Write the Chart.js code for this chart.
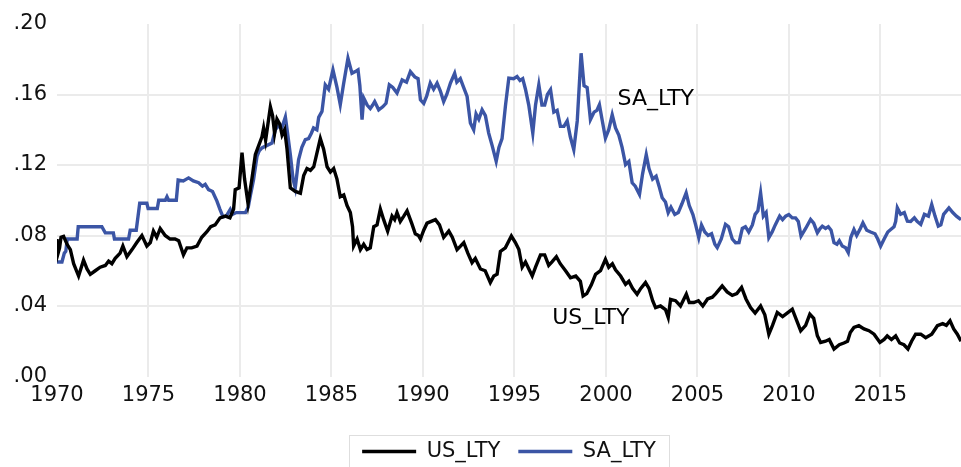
<!DOCTYPE html>
<html>
<head>
<meta charset="utf-8">
<script src="https://cdn.jsdelivr.net/npm/chart.js@4/dist/chart.umd.min.js"></script>
<style>
  html, body { margin: 0; padding: 0; background: #fff; }
  #wrap { width: 961px; height: 467px; position: relative; }
</style>
</head>
<body>
<div id="wrap"><canvas id="yields"></canvas></div>
<script>
// long-term government bond yields, decimal fractions
const usYears = [
  1970.00, 1970.06, 1970.14, 1970.22, 1970.36, 1970.55, 1970.73, 1970.91, 1971.18, 1971.45,
  1971.64, 1971.82, 1972.09, 1972.36, 1972.64, 1972.82, 1973.00, 1973.18, 1973.45, 1973.60,
  1973.82, 1974.10, 1974.36, 1974.64, 1974.91, 1975.10, 1975.27, 1975.45, 1975.64, 1975.91,
  1976.18, 1976.45, 1976.65, 1976.91, 1977.10, 1977.36, 1977.65, 1977.91, 1978.18, 1978.40,
  1978.64, 1978.91, 1979.20, 1979.45, 1979.65, 1979.74, 1979.95, 1980.11, 1980.25, 1980.44,
  1980.65, 1980.84, 1981.02, 1981.20, 1981.29, 1981.40, 1981.55, 1981.66, 1981.78, 1981.89,
  1982.02, 1982.18, 1982.30, 1982.44, 1982.57, 1982.75, 1983.02, 1983.30, 1983.48, 1983.66,
  1983.85, 1984.03, 1984.21, 1984.39, 1984.57, 1984.76, 1984.94, 1985.12, 1985.30, 1985.48,
  1985.67, 1985.85, 1986.03, 1986.15, 1986.21, 1986.40, 1986.58, 1986.76, 1986.94, 1987.12,
  1987.31, 1987.49, 1987.67, 1987.85, 1988.07, 1988.31, 1988.45, 1988.58, 1988.76, 1988.95,
  1989.13, 1989.38, 1989.58, 1989.75, 1989.86, 1990.04, 1990.22, 1990.45, 1990.68, 1990.90,
  1991.13, 1991.41, 1991.60, 1991.86, 1992.05, 1992.23, 1992.45, 1992.68, 1992.86, 1993.14,
  1993.40, 1993.68, 1993.87, 1994.05, 1994.23, 1994.50, 1994.83, 1995.05, 1995.24, 1995.42,
  1995.60, 1995.97, 1996.15, 1996.42, 1996.65, 1996.87, 1997.05, 1997.29, 1997.50, 1997.79,
  1998.06, 1998.35, 1998.60, 1998.75, 1998.95, 1999.20, 1999.43, 1999.70, 1999.97, 2000.15,
  2000.35, 2000.52, 2000.80, 2001.07, 2001.25, 2001.45, 2001.70, 2001.90, 2002.16, 2002.35,
  2002.55, 2002.71, 2002.98, 2003.25, 2003.40, 2003.53, 2003.80, 2004.07, 2004.39, 2004.55,
  2004.80, 2005.05, 2005.29, 2005.55, 2005.81, 2006.00, 2006.35, 2006.62, 2006.90, 2007.15,
  2007.41, 2007.65, 2007.90, 2008.15, 2008.45, 2008.68, 2008.90, 2009.10, 2009.36, 2009.65,
  2009.90, 2010.18, 2010.45, 2010.64, 2010.91, 2011.14, 2011.35, 2011.55, 2011.73, 2012.00,
  2012.20, 2012.46, 2012.75, 2013.00, 2013.20, 2013.35, 2013.55, 2013.82, 2014.10, 2014.37,
  2014.65, 2014.97, 2015.20, 2015.37, 2015.60, 2015.83, 2016.05, 2016.28, 2016.50, 2016.70,
  2016.92, 2017.20, 2017.47, 2017.80, 2018.11, 2018.40, 2018.60, 2018.80, 2019.00, 2019.20,
  2019.40
];
const usLty = [
  .078, .070, .073, .079, .0795, .075, .072, .064, .057, .066,
  .061, .058, .060, .062, .063, .0655, .064, .067, .070, .074,
  .068, .072, .076, .080, .074, .076, .0825, .079, .084, .080,
  .078, .078, .077, .069, .073, .073, .074, .079, .082, .085,
  .086, .090, .091, .090, .095, .106, .107, .127, .112, .098,
  .112, .126, .131, .136, .141, .134, .145, .153, .148, .138,
  .146, .143, .137, .140, .129, .107, .105, .104, .114, .118,
  .117, .119, .127, .135, .129, .119, .116, .118, .112, .102,
  .103, .097, .093, .085, .074, .078, .072, .075, .072, .073,
  .085, .086, .095, .089, .0825, .091, .089, .093, .088, .091,
  .094, .087, .081, .080, .078, .083, .087, .088, .089, .086,
  .079, .0825, .079, .072, .074, .076, .070, .0646, .067, .061,
  .060, .0533, .057, .058, .071, .073, .0797, .076, .072, .062,
  .065, .057, .062, .069, .069, .063, .065, .068, .064, .060,
  .056, .057, .054, .0457, .047, .052, .058, .060, .0665, .062,
  .064, .0605, .057, .0523, .054, .050, .0467, .050, .0533, .050,
  .043, .0391, .040, .038, .0335, .0438, .043, .040, .0467, .042,
  .042, .043, .040, .044, .045, .047, .0514, .048, .046, .047,
  .0505, .044, .0391, .036, .040, .035, .024, .029, .0363, .034,
  .036, .0382, .031, .0259, .029, .0354, .033, .0231, .0193, .020,
  .021, .0156, .018, .019, .020, .025, .0278, .0288, .027, .026,
  .024, .0193, .021, .023, .021, .023, .019, .018, .0156, .020,
  .024, .024, .022, .024, .0288, .030, .029, .0316, .027, .024,
  .020
];

const saYears = [
  1970.00, 1970.27, 1970.40, 1970.48, 1970.56, 1971.10, 1971.16, 1972.45, 1972.64, 1973.08,
  1973.14, 1973.91, 1974.00, 1974.33, 1974.52, 1974.91, 1974.98, 1975.48, 1975.56, 1975.92,
  1976.01, 1976.10, 1976.52, 1976.62, 1976.90, 1977.19, 1977.45, 1977.74, 1977.95, 1978.10,
  1978.28, 1978.50, 1978.74, 1978.90, 1979.07, 1979.25, 1979.47, 1979.60, 1979.80, 1980.11,
  1980.30, 1980.45, 1980.56, 1980.74, 1980.93, 1981.05, 1981.20, 1981.45, 1981.75, 1981.93,
  1982.10, 1982.30, 1982.48, 1982.60, 1982.75, 1982.90, 1983.02, 1983.20, 1983.38, 1983.57,
  1983.75, 1983.90, 1984.02, 1984.20, 1984.30, 1984.48, 1984.66, 1984.84, 1985.08, 1985.30,
  1985.48, 1985.66, 1985.90, 1986.12, 1986.30, 1986.45, 1986.55, 1986.67, 1986.76, 1986.95,
  1987.12, 1987.25, 1987.36, 1987.58, 1987.80, 1987.98, 1988.16, 1988.35, 1988.58, 1988.86,
  1989.10, 1989.31, 1989.55, 1989.73, 1989.86, 1990.04, 1990.20, 1990.40, 1990.58, 1990.77,
  1990.95, 1991.13, 1991.30, 1991.50, 1991.73, 1991.85, 1992.04, 1992.22, 1992.41, 1992.59,
  1992.77, 1992.90, 1993.05, 1993.23, 1993.41, 1993.59, 1993.78, 1994.00, 1994.15, 1994.32,
  1994.51, 1994.69, 1994.95, 1995.14, 1995.30, 1995.45, 1995.60, 1995.78, 1996.00, 1996.15,
  1996.33, 1996.50, 1996.65, 1996.80, 1996.97, 1997.15, 1997.33, 1997.51, 1997.70, 1997.88,
  1998.05, 1998.24, 1998.43, 1998.64, 1998.80, 1998.97, 1999.15, 1999.35, 1999.50, 1999.64,
  1999.80, 1999.97, 2000.15, 2000.34, 2000.52, 2000.70, 2000.88, 2001.07, 2001.25, 2001.43,
  2001.60, 2001.83, 2002.00, 2002.20, 2002.35, 2002.55, 2002.74, 2002.90, 2003.07, 2003.25,
  2003.40, 2003.55, 2003.76, 2003.95, 2004.15, 2004.38, 2004.55, 2004.75, 2004.90, 2005.07,
  2005.22, 2005.40, 2005.58, 2005.77, 2005.95, 2006.08, 2006.30, 2006.53, 2006.70, 2006.90,
  2007.08, 2007.27, 2007.45, 2007.62, 2007.80, 2008.00, 2008.15, 2008.30, 2008.45, 2008.60,
  2008.75, 2008.90, 2009.08, 2009.25, 2009.49, 2009.65, 2009.82, 2009.99, 2010.18, 2010.36,
  2010.51, 2010.66, 2010.91, 2011.18, 2011.35, 2011.55, 2011.70, 2011.82, 2012.00, 2012.15,
  2012.30, 2012.46, 2012.62, 2012.75, 2012.91, 2013.10, 2013.24, 2013.38, 2013.55, 2013.70,
  2013.90, 2014.04, 2014.25, 2014.46, 2014.70, 2014.85, 2015.01, 2015.20, 2015.40, 2015.56,
  2015.74, 2015.83, 2015.92, 2016.10, 2016.30, 2016.47, 2016.65, 2016.85, 2017.00, 2017.20,
  2017.40, 2017.62, 2017.80, 2017.98, 2018.16, 2018.30, 2018.45, 2018.74, 2018.95, 2019.15,
  2019.40
];
const saLty = [
  .065, .065, .070, .071, .078, .078, .085, .085, .0815, .0815,
  .078, .078, .083, .083, .0983, .0983, .0953, .0953, .100, .100,
  .102, .100, .100, .1115, .111, .1127, .111, .110, .108, .109,
  .106, .105, .0995, .095, .0906, .091, .0948, .092, .093, .093,
  .093, .096, .1023, .1117, .1249, .128, .1297, .131, .1325, .140,
  .142, .1415, .1472, .138, .126, .112, .107, .123, .130, .1344,
  .135, .138, .141, .140, .147, .1504, .1655, .163, .174, .164,
  .1542, .166, .1806, .172, .173, .174, .165, .1457, .158, .154,
  .152, .154, .156, .1513, .153, .155, .1655, .164, .1608, .1683,
  .167, .173, .170, .169, .157, .155, .159, .1665, .163, .1665,
  .162, .156, .160, .1665, .172, .167, .169, .164, .1589, .1438,
  .140, .149, .146, .1513, .148, .1381, .131, .1221, .130, .135,
  .154, .1693, .169, .1702, .168, .169, .163, .154, .1381, .154,
  .1655, .154, .154, .160, .1627, .150, .151, .1419, .1419, .145,
  .136, .1287, .145, .1834, .165, .164, .1457, .150, .151, .1542,
  .145, .1353, .140, .1485, .141, .137, .130, .1202, .122, .1099,
  .108, .1033, .115, .1259, .118, .112, .1136, .108, .1014, .099,
  .0929, .096, .0919, .093, .098, .1042, .097, .0919, .086, .0788,
  .086, .082, .080, .081, .075, .0731, .078, .0863, .085, .078,
  .0759, .076, .084, .085, .082, .086, .092, .094, .1042, .091,
  .093, .0788, .082, .086, .091, .089, .091, .0919, .090, .090,
  .088, .0797, .084, .0891, .087, .0816, .084, .0853, .084, .085,
  .083, .0759, .075, .077, .074, .073, .0703, .079, .0834, .080,
  .084, .0872, .083, .082, .081, .078, .074, .078, .082, .0834,
  .085, .088, .0957, .092, .093, .0881, .088, .090, .088, .0863,
  .092, .091, .0976, .091, .0853, .086, .092, .0957, .093, .091,
  .089
];

const seriesNames = ['US_LTY', 'SA_LTY'];
const lineColors = ['#000000', '#3b55a5'];
const yearTicks = [1970, 1975, 1980, 1985, 1990, 1995, 2000, 2005, 2010, 2015];

const FONT = '"DejaVu Sans", sans-serif';
const toPoints = (xs, ys) => xs.map((x, i) => ({ x, y: ys[i] }));

// series names written beside the lines
const seriesLabels = {
  id: 'seriesLabels',
  afterDatasetsDraw(chart) {
    const { ctx, scales: { x, y } } = chart;
    ctx.save();
    ctx.font = '22px ' + FONT;
    ctx.fillStyle = '#000';
    ctx.textBaseline = 'alphabetic';
    ctx.textAlign = 'left';
    ctx.fillText(seriesNames[1], x.getPixelForValue(2000.63), y.getPixelForValue(0.1542));
    ctx.fillText(seriesNames[0], x.getPixelForValue(1997.06), y.getPixelForValue(0.0297));
    ctx.restore();
  }
};

// thin frame around the legend
const legendFrame = {
  id: 'legendFrame',
  afterDraw(chart) {
    const boxes = chart.legend && chart.legend.legendHitBoxes;
    if (!boxes || !boxes.length) return;
    const first = boxes[0];
    const last = boxes[boxes.length - 1];
    const left = Math.round(first.left - 13) + 0.5;
    const right = Math.round(last.left + last.width + 13) + 0.5;
    const top = Math.round(first.top + first.height / 2 - 17) + 0.5;
    const ctx = chart.ctx;
    ctx.save();
    ctx.strokeStyle = '#dedede';
    ctx.lineWidth = 1;
    ctx.strokeRect(left, top, right - left, chart.height - top + 10);
    ctx.restore();
  }
};

new Chart(document.getElementById('yields'), {
  type: 'line',
  data: {
    datasets: [
      {
        label: seriesNames[0],
        data: toPoints(usYears, usLty),
        borderColor: lineColors[0],
        backgroundColor: lineColors[0],
        borderWidth: 3.4,
        pointRadius: 0,
        tension: 0
      },
      {
        label: seriesNames[1],
        data: toPoints(saYears, saLty),
        borderColor: lineColors[1],
        backgroundColor: lineColors[1],
        borderWidth: 3.4,
        pointRadius: 0,
        tension: 0
      }
    ]
  },
  options: {
    responsive: true,
    maintainAspectRatio: false,
    animation: false,
    layout: { padding: { top: 24, right: 0, bottom: -5, left: 0 } },
    scales: {
      x: {
        type: 'linear',
        min: 1970,
        max: 2019.4,
        afterBuildTicks(scale) {
          scale.ticks = yearTicks.map(v => ({ value: v }));
        },
        afterFit(scale) {
          scale.height = 46.5;
        },
        border: { display: false },
        grid: {
          drawTicks: false,
          lineWidth: 2,
          color: c => (c.tick && c.tick.value === 1970 ? 'rgba(0,0,0,0)' : '#ebebeb')
        },
        ticks: {
          autoSkip: false,
          maxRotation: 0,
          padding: 6,
          color: '#111',
          font: { family: FONT, size: 21 },
          callback: v => String(v)
        }
      },
      y: {
        min: 0,
        max: 0.2,
        afterFit(scale) {
          scale.width = 57;
        },
        border: { display: false },
        grid: {
          drawTicks: false,
          lineWidth: 2,
          color: c => (c.tick && (c.tick.value <= 0 || c.tick.value >= 0.2) ? 'rgba(0,0,0,0)' : '#ebebeb')
        },
        ticks: {
          stepSize: 0.04,
          padding: 10,
          color: '#111',
          font: { family: FONT, size: 21 },
          callback: v => v.toFixed(2).slice(1)
        }
      }
    },
    plugins: {
      legend: {
        position: 'bottom',
        fullSize: false,
        labels: {
          usePointStyle: true,
          pointStyle: 'line',
          pointStyleWidth: 54,
          padding: 18,
          color: '#111',
          font: { family: FONT, size: 21 }
        }
      },
      tooltip: { enabled: false }
    }
  },
  plugins: [seriesLabels, legendFrame]
});
</script>
</body>
</html>
